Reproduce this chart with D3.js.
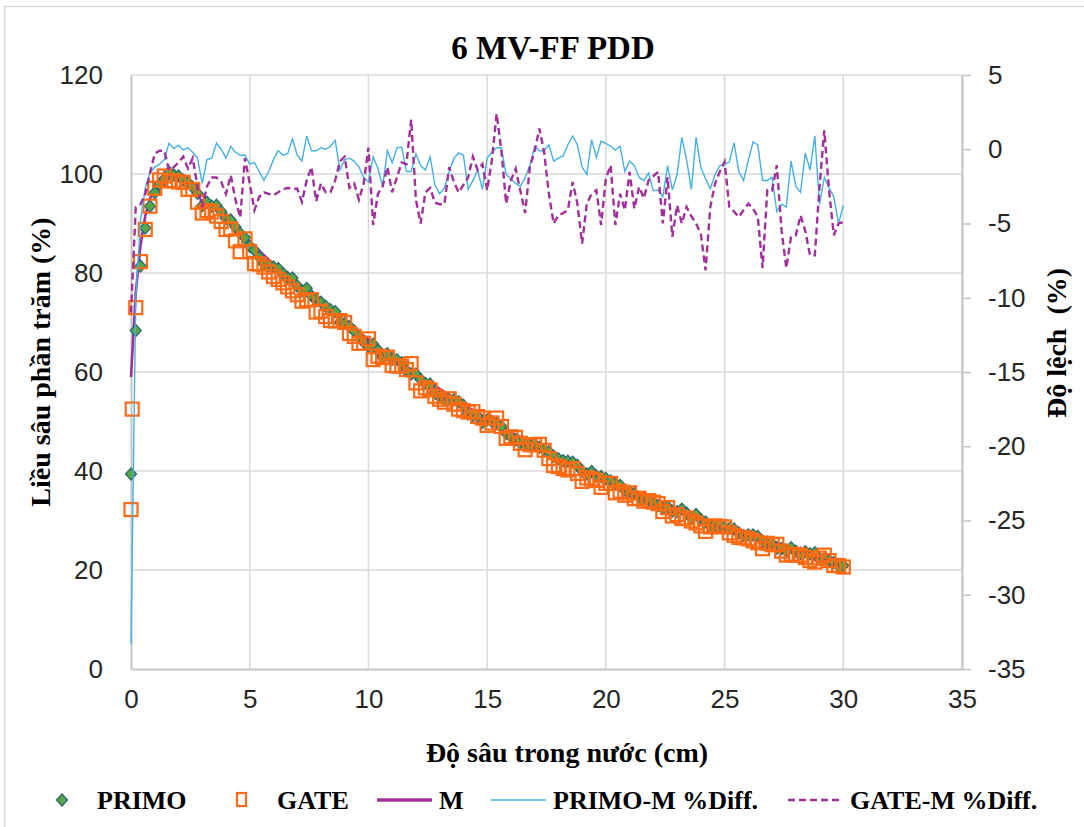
<!DOCTYPE html>
<html>
<head>
<meta charset="utf-8">
<script src="https://cdn.jsdelivr.net/npm/d3@7"></script>
<style>
  html, body { margin: 0; padding: 0; background: #fff; }
  svg { display: block; }
  .serif { font-family: "Liberation Serif", "Times New Roman", serif; font-weight: bold; fill: #000; }
  .tick-label { font-family: "Liberation Sans", Arial, sans-serif; fill: #262626; }
</style>
</head>
<body>
<svg id="chart" width="1084" height="827"></svg>
<script>
// Depth in water (cm)
const depth = [
  0,0.2,0.4,0.6,0.8,1,1.2,1.4,1.6,1.8,
  2,2.2,2.4,2.6,2.8,3,3.2,3.4,3.6,3.8,
  4,4.2,4.4,4.6,4.8,5,5.2,5.4,5.6,5.8,
  6,6.2,6.4,6.6,6.8,7,7.2,7.4,7.6,7.8,
  8,8.2,8.4,8.6,8.8,9,9.2,9.4,9.6,9.8,
  10,10.2,10.4,10.6,10.8,11,11.2,11.4,11.6,11.8,
  12,12.2,12.4,12.6,12.8,13,13.2,13.4,13.6,13.8,
  14,14.2,14.4,14.6,14.8,15,15.2,15.4,15.6,15.8,
  16,16.2,16.4,16.6,16.8,17,17.2,17.4,17.6,17.8,
  18,18.2,18.4,18.6,18.8,19,19.2,19.4,19.6,19.8,
  20,20.2,20.4,20.6,20.8,21,21.2,21.4,21.6,21.8,
  22,22.2,22.4,22.6,22.8,23,23.2,23.4,23.6,23.8,
  24,24.2,24.4,24.6,24.8,25,25.2,25.4,25.6,25.8,
  26,26.2,26.4,26.6,26.8,27,27.2,27.4,27.6,27.8,
  28,28.2,28.4,28.6,28.8,29,29.2,29.4,29.6,29.8,
  30
];

// Measured PDD (M), %
const measured = [
  59.0,76.0,85.5,91.5,95.0,97.4,98.9,99.7,100.0,99.8,
  99.3,98.8,98.2,97.5,96.7,95.8,95.0,94.1,93.3,92.4,
  91.5,90.5,89.5,88.4,87.4,86.3,85.4,84.5,83.6,82.7,
  81.8,81.0,80.2,79.3,78.5,77.7,77.0,76.2,75.5,74.7,
  74.0,73.3,72.5,71.8,71.0,70.3,69.6,68.8,68.1,67.3,
  66.6,65.9,65.2,64.5,63.8,63.1,62.4,61.8,61.1,60.5,
  59.8,59.2,58.5,57.9,57.2,56.6,56.0,55.3,54.7,54.1,
  53.5,52.9,52.3,51.7,51.2,50.6,50.1,49.5,49.0,48.4,
  47.9,47.4,46.9,46.3,45.8,45.3,44.8,44.3,43.8,43.3,
  42.8,42.3,41.9,41.4,41.0,40.5,40.1,39.6,39.2,38.7,
  38.3,37.9,37.5,37.0,36.6,36.2,35.8,35.4,35.1,34.7,
  34.3,33.9,33.5,33.2,32.8,32.4,32.0,31.7,31.3,31.0,
  30.6,30.3,29.9,29.6,29.2,28.9,28.6,28.2,27.9,27.6,
  27.3,27.0,26.7,26.4,26.1,25.8,25.5,25.2,25.0,24.7,
  24.4,24.1,23.8,23.6,23.3,23.0,22.7,22.5,22.2,22.0,
  21.7
];

// PRIMO Monte Carlo PDD, %
const primo = [
  39.4,68.4,81.4,89.1,93.5,96.2,97.9,99.0,100.4,99.8,
  99.6,98.8,98.3,97.3,96.1,93.6,94.3,93.5,93.7,92.4,
  91.0,90.7,89.3,88.0,87.1,85.4,84.6,83.2,81.8,81.5,
  81.2,80.9,79.9,79.1,79.0,77.4,76.4,76.9,75.4,74.6,
  74.1,73.3,72.6,72.2,70.0,69.8,69.2,68.3,67.3,66.0,
  65.1,65.6,64.4,62.9,63.7,62.5,62.5,61.9,60.2,59.6,
  59.6,58.5,57.7,57.6,55.8,54.9,54.5,54.5,54.4,54.0,
  53.3,51.5,51.2,51.0,49.8,50.3,50.0,49.6,49.0,47.6,
  46.9,46.3,45.7,45.4,45.3,45.4,44.8,44.3,43.9,43.0,
  42.5,42.1,42.0,41.8,41.1,40.0,39.4,39.9,39.0,38.9,
  38.5,38.0,37.5,37.1,36.1,35.9,35.4,34.7,34.4,34.1,
  33.3,33.0,32.4,32.8,31.9,31.8,32.3,31.5,30.5,31.2,
  30.2,29.7,29.1,29.1,28.9,28.6,28.4,28.3,27.5,27.0,
  27.1,27.1,26.8,25.8,25.6,25.3,24.4,24.3,24.0,24.5,
  23.8,23.4,23.7,23.3,23.5,22.1,22.3,21.9,21.5,20.9,
  20.9
];

// GATE Monte Carlo PDD, % (two extra samples at the surface)
const gateDepth = [0, 0.05].concat(depth.slice(1));
const gate = [
  32.2,52.5,
  73.0,82.3,88.8,93.5,97.1,98.8,99.6,98.6,98.6,
  98.4,98.3,96.9,96.9,94.3,92.1,92.6,92.3,91.5,90.4,
  88.8,88.9,86.5,84.3,86.9,84.3,81.9,81.8,81.2,80.2,
  79.3,78.7,78.0,77.2,76.4,75.6,74.3,74.6,74.6,72.1,
  72.3,71.2,70.4,70.3,70.4,70.0,67.8,67.2,65.8,65.8,
  66.7,62.5,63.2,62.9,63.0,61.3,61.2,61.2,60.5,61.7,
  57.8,56.2,56.8,56.4,55.1,54.5,53.9,54.6,53.5,52.5,
  52.2,51.9,52.0,51.0,50.7,49.2,49.7,50.7,49.0,46.6,
  46.9,46.8,45.6,44.3,45.3,45.3,45.4,44.2,42.5,41.1,
  40.9,40.5,40.2,40.5,39.5,37.9,38.6,38.4,38.1,36.7,
  37.5,37.5,35.6,35.9,35.1,35.6,34.4,34.5,33.9,34.0,
  33.7,33.4,31.8,32.6,30.9,31.2,30.4,30.5,29.9,29.5,
  28.9,27.8,28.7,28.9,28.8,28.7,27.5,27.0,26.6,26.5,
  26.3,25.9,25.5,24.3,25.4,25.1,25.2,23.8,23.0,23.2,
  23.0,23.0,22.5,21.9,21.6,22.4,23.0,21.9,20.9,20.9,
  20.6
];

// Percentage differences against the measurement (secondary axis)
const primoDiff = [
  -33.3,-10,-4.8,-2.6,-1.6,-1.2,-1.0,-0.7,0.4,0.05,
  0.27,-0.05,0.1,-0.2,-0.6,-2.3,-0.7,-0.6,0.4,0,
  -0.6,0.2,-0.2,-0.4,-0.4,-1.0,-0.9,-1.5,-2.1,-1.5,
  -0.7,-0.1,-0.4,-0.3,0.7,-0.4,-0.8,0.9,-0.1,-0.1,
  0.1,0,0.2,0.6,-1.4,-0.7,-0.6,-0.8,-1.2,-1.9,
  -2.2,-0.5,-1.3,-2.5,-0.1,-0.9,0.1,0.15,-1.5,-1.5,
  -0.3,-1.1,-1.4,-0.5,-2.4,-3.0,-2.6,-1.5,-0.6,-0.25,
  -0.4,-2.7,-2.1,-1.4,-2.7,-0.6,-0.2,0.1,0.1,-1.7,
  -2.0,-2.3,-2.5,-1.9,-1.1,0.15,-0.1,-0.1,0.3,-0.8,
  -0.6,-0.45,0.3,0.9,0.3,-1.2,-1.7,0.65,-0.55,0.55,
  0.4,0.2,-0.05,0.2,-1.5,-0.8,-1.1,-1.9,-2.1,-1.6,
  -2.8,-2.75,-3.2,-1.1,-2.75,-1.7,0.8,-0.7,-2.7,0.8,
  -1.2,-2.0,-2.65,-1.7,-1.1,-1.05,-0.85,0.45,-1.5,-2.1,
  -0.75,0.5,0.3,-2.1,-2.1,-1.9,-4.2,-3.7,-3.9,-0.8,
  -2.5,-2.9,-0.25,-1.4,0.9,-3.7,-1.9,-2.6,-3.2,-5.0,
  -3.8
];

const gateDiff = [
  -11,-3.9,-3.7,-3.0,-1.6,-0.3,-0.1,-0.1,-1.4,-1.2,
  -0.9,-0.5,-1.3,-0.6,-2.5,-3.9,-2.5,-1.9,-1.9,-2.2,
  -3.0,-1.75,-3.4,-4.6,-0.6,-2.3,-4.1,-3.2,-2.9,-3.0,
  -3.1,-2.9,-2.7,-2.6,-2.7,-2.65,-3.55,-2.1,-1.2,-3.5,
  -2.3,-2.9,-2.9,-2.1,-0.8,-0.5,-2.6,-2.3,-3.4,-2.3,
  0.1,-5.1,-3.0,-2.5,-1.2,-2.9,-1.9,-0.9,-1.0,2.0,
  -3.4,-5.0,-2.9,-2.6,-3.6,-3.7,-3.7,-1.2,-2.2,-2.9,
  -2.4,-1.9,-0.5,-1.4,-1.0,-2.76,-0.74,2.4,-0.1,-3.66,
  -2.1,-1.3,-2.8,-4.3,-1.2,-0.1,1.4,-0.2,-3.0,-5.0,
  -4.45,-4.3,-4.1,-2.2,-3.66,-6.35,-3.66,-3.0,-2.76,-5.1,
  -1.98,-1.08,-5.1,-3.0,-4.1,-1.53,-4.0,-2.54,-3.3,-2.09,
  -1.8,-1.53,-5.0,-1.87,-5.9,-3.77,-5.0,-3.88,-4.5,-5.0,
  -5.68,-8.15,-3.88,-2.31,-1.5,-0.85,-3.88,-4.2,-4.56,-4.1,
  -3.66,-4.0,-4.56,-8.0,-2.76,-2.8,-1.08,-5.45,-8.0,-5.9,
  -5.8,-4.45,-5.5,-7.14,-7.14,-2.54,1.28,-2.76,-5.79,-5.0,
  -4.9
];

const xTicks = [0, 5, 10, 15, 20, 25, 30, 35];
const yTicks = [0, 20, 40, 60, 80, 100, 120];
const y2Ticks = [-35, -30, -25, -20, -15, -10, -5, 0, 5];

const colors = {
  primoFill: "#58a646", primoStroke: "#2b6a70",
  gate: "#ff6a13", measured: "#a0309a",
  primoDiff: "#46b1e1", gateDiff: "#a0309a",
  grid: "#d9d9d9", axis: "#c4c4c4"
};

const svg = d3.select("#chart");
const plot = { left: 131, right: 962, top: 75, bottom: 669 };

const x = d3.scaleLinear().domain([0, 35]).range([plot.left, plot.right]);
const y = d3.scaleLinear().domain([0, 120]).range([plot.bottom, plot.top]);
const y2 = d3.scaleLinear().domain([-35, 5]).range([plot.bottom, plot.top]);

// plain hyphen-minus tick text
const plainNum = d => String(d);

// outer chart border
svg.append("rect")
  .attr("x", 4.5).attr("y", 6.5).attr("width", 1200).attr("height", 1000)
  .attr("fill", "none").attr("stroke", "#d9d9d9").attr("stroke-width", 1.5);

svg.append("defs").append("clipPath").attr("id", "plot-clip")
  .append("rect")
  .attr("x", plot.left - 8).attr("y", plot.top)
  .attr("width", plot.right - plot.left + 8).attr("height", plot.bottom - plot.top);

// gridlines
const grid = svg.append("g");
grid.selectAll(".hg").data(yTicks.filter(v => v > 0)).join("line")
  .attr("x1", plot.left).attr("x2", plot.right)
  .attr("y1", d => y(d)).attr("y2", d => y(d))
  .attr("stroke", colors.grid).attr("stroke-width", 1.5);
grid.selectAll(".vg").data(xTicks.filter(v => v > 0)).join("line")
  .attr("x1", d => x(d)).attr("x2", d => x(d))
  .attr("y1", plot.top).attr("y2", plot.bottom)
  .attr("stroke", colors.grid).attr("stroke-width", 1.5);

// axes built with d3-axis, then styled
const xAxis = svg.append("g").attr("transform", `translate(0,${plot.bottom})`)
  .call(d3.axisBottom(x).tickValues(xTicks).tickSize(0).tickPadding(30).tickFormat(plainNum));
const yAxis = svg.append("g").attr("transform", `translate(${plot.left},0)`)
  .call(d3.axisLeft(y).tickValues(yTicks).tickSize(0).tickPadding(28).tickFormat(plainNum));
const y2Axis = svg.append("g").attr("transform", `translate(${plot.right},0)`)
  .call(d3.axisRight(y2).tickValues(y2Ticks).tickSizeInner(9).tickSizeOuter(0).tickPadding(17).tickFormat(plainNum));

[xAxis, yAxis, y2Axis].forEach(g => {
  g.select(".domain").attr("stroke", colors.axis).attr("stroke-width", 2);
  g.selectAll(".tick line").attr("stroke", colors.axis).attr("stroke-width", 1.5);
  g.selectAll(".tick text")
    .attr("class", "tick-label")
    .style("font-size", "26px")
    .attr("fill", "#262626");
});
xAxis.selectAll(".tick text").attr("dy", "0.35em");

// series
const data = depth.map((d, i) => ({ d, m: measured[i], p: primo[i], pd: primoDiff[i], gd: gateDiff[i] }));
const gateData = gateDepth.map((d, i) => ({ d, g: gate[i] }));

const body = svg.append("g").attr("clip-path", "url(#plot-clip)");

body.append("path").datum(data)
  .attr("d", d3.line().x(d => x(d.d)).y(d => y(d.m)))
  .attr("fill", "none").attr("stroke", colors.measured).attr("stroke-width", 2.6);

// diamond marker, 11 wide by 12 tall
const diamondPath = "M0,-6L5.5,0L0,6L-5.5,0Z";
body.append("g").selectAll("path").data(data).join("path")
  .attr("d", diamondPath)
  .attr("transform", d => `translate(${x(d.d)},${y(d.p)})`)
  .attr("fill", colors.primoFill).attr("stroke", colors.primoStroke).attr("stroke-width", 1.3);

const sq = 13;
body.append("g").selectAll("rect").data(gateData).join("rect")
  .attr("x", d => x(d.d) - sq / 2).attr("y", d => y(d.g) - sq / 2)
  .attr("width", sq).attr("height", sq)
  .attr("fill", "none").attr("stroke", colors.gate).attr("stroke-width", 2.2);

// secondary-axis difference curves
body.append("path").datum(data)
  .attr("d", d3.line().x(d => x(d.d)).y(d => y2(d.pd)))
  .attr("fill", "none").attr("stroke", colors.primoDiff).attr("stroke-width", 1.4);

body.append("path").datum(data)
  .attr("d", d3.line().x(d => x(d.d)).y(d => y2(d.gd)))
  .attr("fill", "none").attr("stroke", colors.gateDiff).attr("stroke-width", 2.4)
  .attr("stroke-dasharray", "7,4");

// titles
svg.append("text").attr("class", "serif")
  .attr("x", 553).attr("y", 59).attr("text-anchor", "middle")
  .style("font-size", "33px").text("6 MV-FF PDD");

svg.append("text").attr("class", "serif")
  .attr("transform", "translate(50,362) rotate(-90)").attr("text-anchor", "middle")
  .style("font-size", "28px").text("Liều sâu phần trăm (%)");

svg.append("text").attr("class", "serif")
  .attr("transform", "translate(1066,343) rotate(-90)").attr("text-anchor", "middle")
  .style("font-size", "28px").style("white-space", "pre").text("Độ lệch  (%)");

svg.append("text").attr("class", "serif")
  .attr("x", 567).attr("y", 762).attr("text-anchor", "middle")
  .style("font-size", "28px").text("Độ sâu trong nước (cm)");

// legend
const leg = svg.append("g");
const ly = 800;
leg.append("path").attr("d", diamondPath)
  .attr("transform", `translate(62,${ly})`)
  .attr("fill", colors.primoFill).attr("stroke", colors.primoStroke).attr("stroke-width", 1.3);
leg.append("rect").attr("x", 237).attr("y", ly - 7).attr("width", 9).attr("height", 13)
  .attr("fill", "none").attr("stroke", colors.gate).attr("stroke-width", 2.2);
leg.append("line").attr("x1", 377).attr("x2", 432).attr("y1", ly).attr("y2", ly)
  .attr("stroke", colors.measured).attr("stroke-width", 3.5);
leg.append("line").attr("x1", 491).attr("x2", 546).attr("y1", ly).attr("y2", ly)
  .attr("stroke", colors.primoDiff).attr("stroke-width", 1.6);
leg.append("line").attr("x1", 788).attr("x2", 840).attr("y1", ly).attr("y2", ly)
  .attr("stroke", colors.gateDiff).attr("stroke-width", 2.4).attr("stroke-dasharray", "7,4");

const legendItems = [
  { label: "PRIMO", x: 97 },
  { label: "GATE", x: 277 },
  { label: "M", x: 439 },
  { label: "PRIMO-M %Diff.", x: 553 },
  { label: "GATE-M %Diff.", x: 850 }
];
leg.selectAll("text.lg").data(legendItems).join("text")
  .attr("class", "serif")
  .attr("x", d => d.x).attr("y", ly).attr("dy", "0.35em")
  .style("font-size", "26px").text(d => d.label);
</script>
</body>
</html>
